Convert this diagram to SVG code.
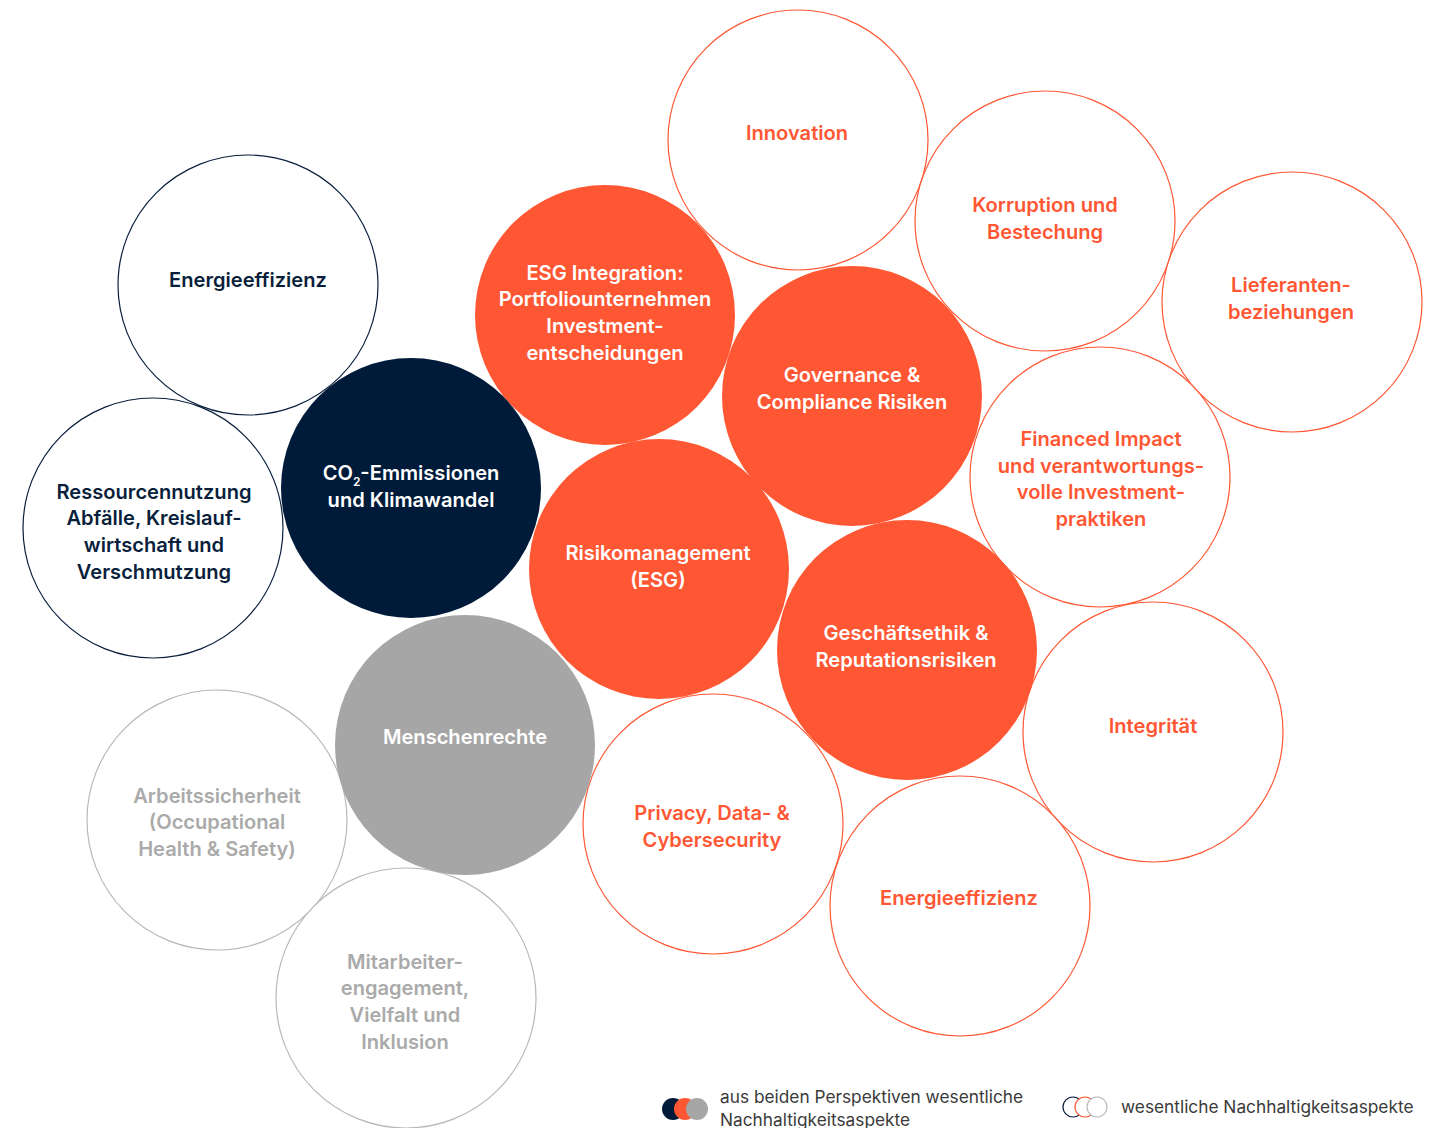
<svg xmlns="http://www.w3.org/2000/svg" width="1443" height="1128" viewBox="0 0 1443 1128">
<style>
.t{font-family:Inter,"Noto Sans","Liberation Sans",sans-serif;font-weight:600;font-size:20.1px;text-anchor:middle}
.oo{fill:#fff;stroke:#FF5733;stroke-width:1.2}
.on{fill:#fff;stroke:#0A1F3C;stroke-width:1.2}
.og{fill:#fff;stroke:#B8B8B8;stroke-width:1.2}
.fo{fill:#FF5733}
.fn{fill:#001B3A}
.fg{fill:#A6A6A6}
.to{fill:#FF5733}
.tn{fill:#0A1F3C}
.tg{fill:#AAAAAA}
.tw{fill:#fff}
.lg{font-family:Inter,"Noto Sans","Liberation Sans",sans-serif;font-weight:400;font-size:17.3px;fill:#3A3A3A}
</style>
<rect width="1443" height="1128" fill="#fff"/>
<g id="outlines">
<g id="n-innovation"><circle class="oo" cx="798" cy="140" r="130"/><text class="t to" x="797" y="140">Innovation</text></g>
<g id="n-korruption"><circle class="oo" cx="1045" cy="221" r="130"/><text class="t to" x="1045" y="212">Korruption und</text><text class="t to" x="1045" y="239">Bestechung</text></g>
<g id="n-lieferanten"><circle class="oo" cx="1292" cy="302" r="130"/><text class="t to" x="1291" y="292">Lieferanten-</text><text class="t to" x="1291" y="319">beziehungen</text></g>
<g id="n-energie1"><circle class="on" cx="248" cy="285" r="130"/><text class="t tn" x="248" y="287">Energieeffizienz</text></g>
<g id="n-financed"><circle class="oo" cx="1100" cy="477" r="130"/><text class="t to" x="1101" y="446">Financed Impact</text><text class="t to" x="1101" y="473">und verantwortungs-</text><text class="t to" x="1101" y="499">volle Investment-</text><text class="t to" x="1101" y="526">praktiken</text></g>
<g id="n-ressourcen"><circle class="on" cx="153" cy="528" r="130"/><text class="t tn" x="154" y="499">Ressourcennutzung</text><text class="t tn" x="154" y="525">Abfälle, Kreislauf-</text><text class="t tn" x="154" y="552">wirtschaft und</text><text class="t tn" x="154" y="579">Verschmutzung</text></g>
<g id="n-integritaet"><circle class="oo" cx="1153" cy="732" r="130"/><text class="t to" x="1153" y="733">Integrität</text></g>
<g id="n-arbeit"><circle class="og" cx="217" cy="820" r="130"/><text class="t tg" x="217" y="803">Arbeitssicherheit</text><text class="t tg" x="217" y="829">(Occupational</text><text class="t tg" x="217" y="856">Health &amp; Safety)</text></g>
<g id="n-privacy"><circle class="oo" cx="713" cy="824" r="130"/><text class="t to" x="712" y="820">Privacy, Data- &amp;</text><text class="t to" x="712" y="847">Cybersecurity</text></g>
<g id="n-energie2"><circle class="oo" cx="960" cy="906" r="130"/><text class="t to" x="959" y="905">Energieeffizienz</text></g>
<g id="n-mitarbeiter"><circle class="og" cx="406" cy="998" r="130"/><text class="t tg" x="405" y="969">Mitarbeiter-</text><text class="t tg" x="405" y="995">engagement,</text><text class="t tg" x="405" y="1022">Vielfalt und</text><text class="t tg" x="405" y="1049">Inklusion</text></g>
</g>
<g id="filled">
<g id="n-esg"><circle class="fo" cx="605" cy="315" r="130"/><text class="t tw" x="605" y="280">ESG Integration:</text><text class="t tw" x="605" y="306">Portfoliounternehmen</text><text class="t tw" x="605" y="333">Investment-</text><text class="t tw" x="605" y="360">entscheidungen</text></g>
<g id="n-governance"><circle class="fo" cx="852" cy="396" r="130"/><text class="t tw" x="852" y="382">Governance &amp;</text><text class="t tw" x="852" y="409">Compliance Risiken</text></g>
<g id="n-co2"><circle class="fn" cx="411" cy="488" r="130"/><text class="t tw" x="411" y="480">CO<tspan font-size="12" dy="6">2</tspan><tspan dy="-6">-Emmissionen</tspan></text><text class="t tw" x="411" y="507">und Klimawandel</text></g>
<g id="n-risiko"><circle class="fo" cx="659" cy="569" r="130"/><text class="t tw" x="658" y="560">Risikomanagement</text><text class="t tw" x="658" y="587">(ESG)</text></g>
<g id="n-ethik"><circle class="fo" cx="907" cy="650" r="130"/><text class="t tw" x="906" y="640">Geschäftsethik &amp;</text><text class="t tw" x="906" y="667">Reputationsrisiken</text></g>
<g id="n-menschenrechte"><circle class="fg" cx="465" cy="745" r="130"/><text class="t tw" x="465" y="744">Menschenrechte</text></g>
</g>
<g id="connectors"></g>
<g id="legend">
<circle cx="673" cy="1109" r="11" fill="#001B3A"/>
<circle cx="685" cy="1109" r="11" fill="#FF5733"/>
<circle cx="697" cy="1109" r="11" fill="#A6A6A6"/>
<text class="lg" x="720" y="1103">aus beiden Perspektiven wesentliche</text>
<text class="lg" x="720" y="1126">Nachhaltigkeitsaspekte</text>
<circle cx="1073" cy="1107" r="10" fill="#fff" stroke="#0A1F3C" stroke-width="1.2"/>
<circle cx="1085" cy="1107" r="10" fill="#fff" stroke="#FF5733" stroke-width="1.2"/>
<circle cx="1097" cy="1107" r="10" fill="#fff" stroke="#B8B8B8" stroke-width="1.2"/>
<text class="lg" x="1121" y="1113">wesentliche Nachhaltigkeitsaspekte</text>
</g>
</svg>
